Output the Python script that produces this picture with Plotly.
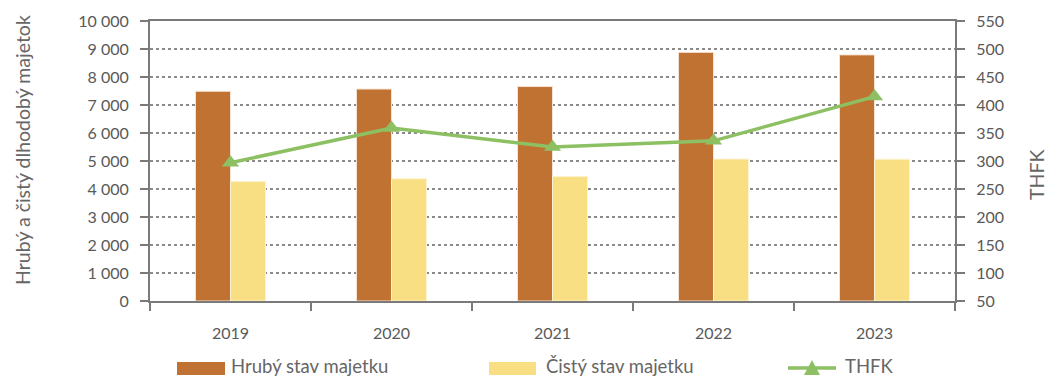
import plotly.graph_objects as go

years = ["2019", "2020", "2021", "2022", "2023"]
hruby = [7490, 7570, 7660, 8880, 8790]
cisty = [4270, 4365, 4445, 5070, 5065]
thfk = [297, 359, 325, 336, 415]

left_ticks = [0, 1000, 2000, 3000, 4000, 5000, 6000, 7000, 8000, 9000, 10000]
left_labels = ["0", "1 000", "2 000", "3 000", "4 000", "5 000", "6 000", "7 000", "8 000", "9 000", "10 000"]
right_ticks = [50, 100, 150, 200, 250, 300, 350, 400, 450, 500, 550]

names = ["Hrubý stav majetku", "Čistý stav majetku", "THFK"]
left_title = "Hrubý a čistý dlhodobý majetok"
right_title = "THFK"
C_HRUBY = "#C07232"
C_CISTY = "#F9DF84"
C_THFK = "#8DC063"

FONT = "Lato"
TXT = "#595959"
TXT2 = "#666666"
AX = "#7a7a7a"

W, H = 1047, 378
ML, MR, MT, MB = 150, 92, 21, 77
PW, PH = W - ML - MR, H - MT - MB


def px(x):
    return (x - ML) / PW


def py(y):
    return (H - MB - y) / PH


fig = go.Figure()
fig.add_trace(go.Bar(x=years, y=hruby, name=names[0],
                     marker=dict(color=C_HRUBY, line=dict(color="#F6E3D3", width=1))))
fig.add_trace(go.Bar(x=years, y=cisty, name=names[1],
                     marker=dict(color=C_CISTY, line=dict(color="#FDF3D0", width=1))))
fig.add_trace(go.Scatter(x=years, y=thfk, name=names[2], yaxis="y2", mode="lines+markers",
                         line=dict(color=C_THFK, width=3.5),
                         marker=dict(symbol="triangle-up", size=15, color=C_THFK)))

# manual legend (Excel-style wide swatches)
LY = 366
shapes = [
    dict(type="rect", xref="paper", yref="paper", x0=px(177), x1=px(225), y0=py(375), y1=py(362),
         fillcolor=C_HRUBY, line=dict(width=0)),
    dict(type="rect", xref="paper", yref="paper", x0=px(489), x1=px(536), y0=py(375), y1=py(362),
         fillcolor=C_CISTY, line=dict(width=0)),
    dict(type="line", xref="paper", yref="paper", x0=px(788), x1=px(836), y0=py(368), y1=py(368),
         line=dict(color=C_THFK, width=3.5)),
    dict(type="path", xref="paper", yref="paper",
         path="M {:.5f} {:.5f} L {:.5f} {:.5f} L {:.5f} {:.5f} Z".format(
             px(804), py(375), px(820), py(375), px(812), py(360)),
         fillcolor=C_THFK, line=dict(width=0)),
]
annotations = [
    dict(text=names[0], x=px(229), y=py(LY), xref="paper", yref="paper", xanchor="left",
         yanchor="middle", showarrow=False, font=dict(family=FONT, size=18.5, color=TXT2)),
    dict(text=names[1], x=px(544), y=py(LY), xref="paper", yref="paper", xanchor="left",
         yanchor="middle", showarrow=False, font=dict(family=FONT, size=18.5, color=TXT2)),
    dict(text=names[2], x=px(843), y=py(LY), xref="paper", yref="paper", xanchor="left",
         yanchor="middle", showarrow=False, font=dict(family=FONT, size=18.5, color=TXT2)),
    dict(text=left_title, x=px(22), y=py(150), xref="paper", yref="paper", xanchor="center",
         yanchor="middle", textangle=-90, showarrow=False,
         font=dict(family=FONT, size=19.5, color=TXT2)),
    dict(text=right_title, x=px(1036), y=py(175), xref="paper", yref="paper", xanchor="center",
         yanchor="middle", textangle=-90, showarrow=False,
         font=dict(family=FONT, size=19.5, color=TXT2)),
]

fig.update_layout(
    width=W, height=H,
    margin=dict(l=ML, r=MR, t=MT, b=MB, autoexpand=False),
    paper_bgcolor="white", plot_bgcolor="white",
    barmode="group", bargap=0.565, bargroupgap=0,
    font=dict(family=FONT, size=16, color=TXT),
    showlegend=False,
    shapes=shapes, annotations=annotations,
    xaxis=dict(type="category", range=[-0.5, 4.5], showline=True, mirror=True,
               linecolor=AX, linewidth=2,
               ticks="outside", tickson="boundaries", ticklen=8, tickwidth=2, tickcolor=AX,
               showgrid=False, tickfont=dict(size=16, color=TXT), zeroline=False,
               ticklabelstandoff=17),
    yaxis=dict(range=[0, 10000], tickvals=left_ticks, ticktext=left_labels,
               showline=True, linecolor=AX, linewidth=2, ticks="outside", ticklen=8,
               tickwidth=2, tickcolor=AX, ticklabelstandoff=8,
               showgrid=True, gridcolor="#8a8a8a", griddash="dot", gridwidth=1.6,
               zeroline=False, tickfont=dict(size=16, color=TXT)),
    yaxis2=dict(range=[50, 550], tickvals=right_ticks, overlaying="y", side="right",
                showline=True, linecolor=AX, linewidth=2, ticks="outside", ticklen=8,
                tickwidth=2, tickcolor=AX, showgrid=False, zeroline=False, ticklabelstandoff=8,
                tickfont=dict(size=16, color=TXT)),
)

fig.write_html("out.html", config={"displayModeBar": False},
               post_script="document.body.style.margin='0px';")
